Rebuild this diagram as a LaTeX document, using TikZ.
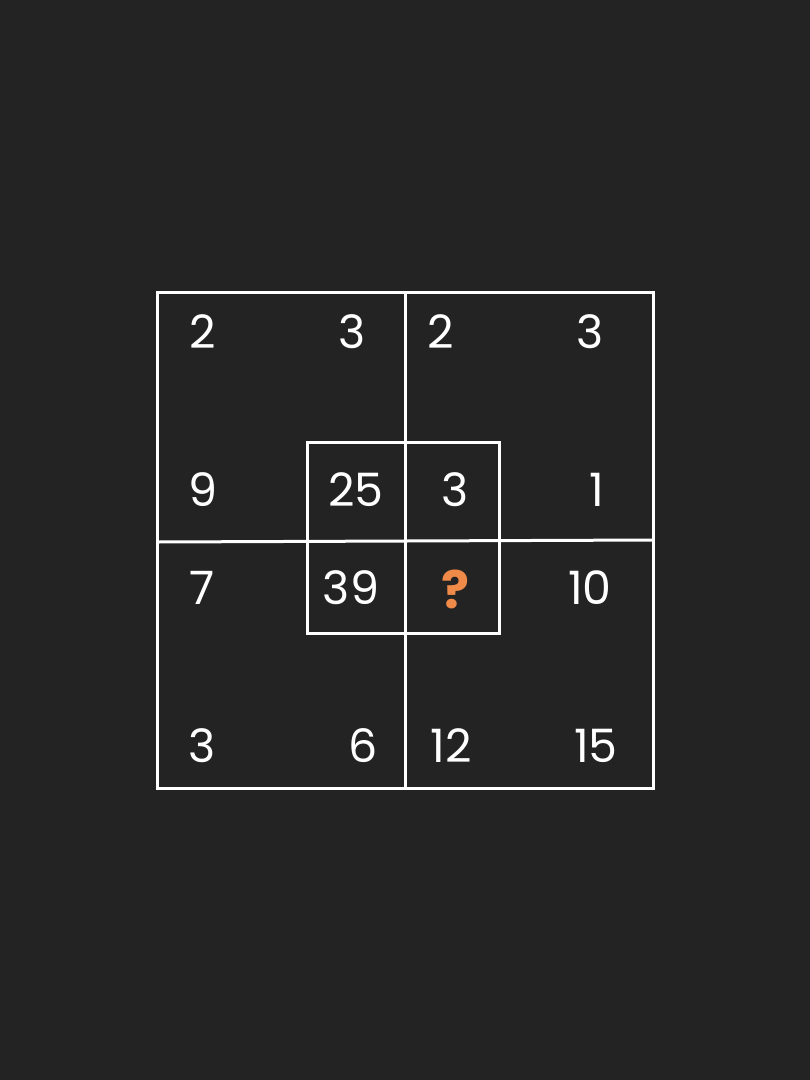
\documentclass[tikz,border=0pt]{standalone}
\usepackage{fontspec}
\setmainfont{Poppins}
\definecolor{bg}{HTML}{232323}
\definecolor{qorange}{HTML}{F08A48}
\begin{document}
\begin{tikzpicture}[x=1pt,y=-1pt,
  grid/.style={draw=white,line width=3pt},
  num/.style={text=white,font=\fontsize{46}{46}\selectfont,inner sep=0pt,anchor=center},
  qmark/.style={text=qorange,font=\fontsize{52}{52}\selectfont\bfseries,inner sep=0pt,anchor=center}]
\fill[bg] (0,0) rectangle (810,1080);
\useasboundingbox (0,0) rectangle (810,1080);
% outer square and cross
\draw[grid] (157,292) rectangle (653,788);
\coordinate (vt) at (405,292);
\coordinate (vb) at (405,788);
\coordinate (hl) at (157,542);
\coordinate (hr) at (653,540);
\draw[grid] (vt) -- (vb);
\draw[grid] (hl) -- (405,541) -- (hr);
% inner square
\draw[grid] (307,442) rectangle (499,633);
% numbers
\node[num] (a1) at (203,332) {2};
\node[num] (a2) at (352,332) {3};
\node[num] (a3) at (441,332) {2};
\node[num] (a4) at (590,332) {3};
\node[num] (b1) at (203,490) {9};
\node[num] (b2) at (356,490) {25};
\node[num] (b3) at (455,490) {3};
\node[num] (b4) at (597,490) {1};
\node[num] (c1) at (202,588) {7};
\node[num] (c2) at (351,588) {39};
\node[qmark] (c3) at (455,589) {?};
\node[num] (c4) at (590,588) {10};
\node[num] (d1) at (202,746) {3};
\node[num] (d2) at (363,746) {6};
\node[num] (d3) at (451,746) {12};
\node[num] (d4) at (596,746) {15};
\end{tikzpicture}
\end{document}
